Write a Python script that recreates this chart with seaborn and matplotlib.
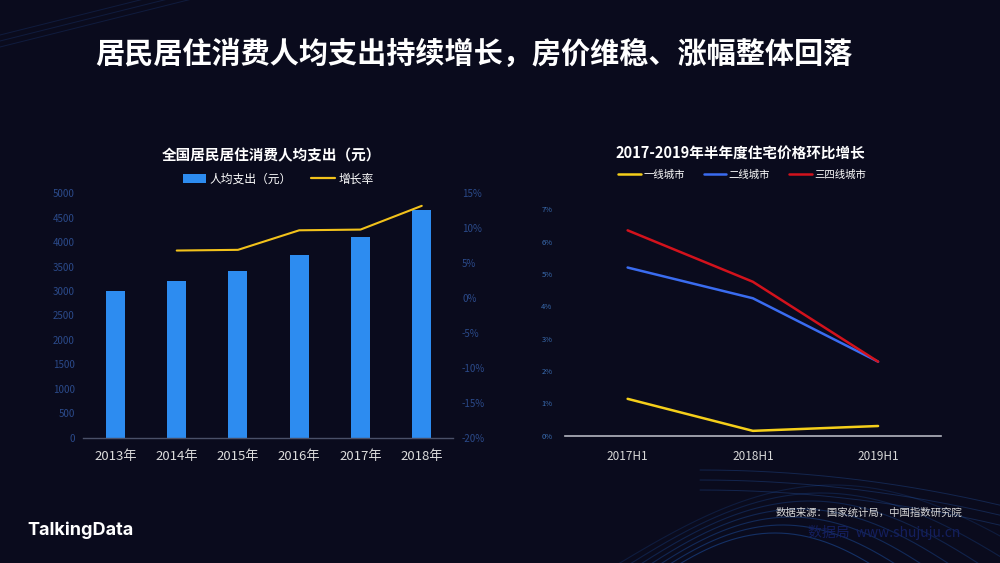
import numpy as np
import pandas as pd
import matplotlib.pyplot as plt
import seaborn as sns
from matplotlib.lines import Line2D
from matplotlib.patches import Patch
from matplotlib.ticker import FuncFormatter

# left chart: per-capita housing spend + growth rate
years = ['2013年', '2014年', '2015年', '2016年', '2017年', '2018年']
spend = [3000, 3205, 3416, 3744, 4112, 4657]
growth = [np.nan, 6.8, 6.9, 9.7, 9.8, 13.2]

# right chart: half-year housing price growth (%)
halves = ['2017H1', '2018H1', '2019H1']
tier1 = [1.14, 0.15, 0.30]
tier2 = [5.20, 4.25, 2.29]
tier34 = [6.35, 4.76, 2.29]
city_names = ['一线城市', '二线城市', '三四线城市']

BG = '#0a0b1d'
BAR_BLUE = '#2d8cf0'
GOLD = '#f2c21b'
city_colors = {'一线城市': '#f5cf1a', '二线城市': '#3a6cf0', '三四线城市': '#d2121c'}

sns.set_theme(style='dark')
plt.rcParams['font.family'] = ['Noto Sans CJK SC', 'DejaVu Sans']
plt.rcParams['axes.unicode_minus'] = False


def px(x, y):
    # pixel position (from top-left) -> figure fraction
    return x / 1000, 1 - y / 563


fig = plt.figure(figsize=(10, 5.63), dpi=100, facecolor=BG)

# faint background swooshes (decoration only)
bg = fig.add_axes([0, 0, 1, 1], zorder=-10)
bg.set_xlim(0, 1000)
bg.set_ylim(563, 0)
bg.axis('off')
t = np.linspace(0, 1, 200)
for k in range(7):
    xs = 600 + 420 * t
    ys = 575 - 90 * np.sin(np.pi * t * (0.9 + 0.05 * k)) + 8 * k
    bg.plot(xs, ys, color='#1d4fa0', alpha=0.25 + 0.05 * k, lw=0.8)
for k in range(3):
    xs = 700 + 320 * t
    ys = 470 + 40 * t ** 2 + 10 * k
    bg.plot(xs, ys, color='#2a63c0', alpha=0.3, lw=0.7)
for k in range(3):
    xs = -20 + 240 * t
    ys = 40 - 60 * t + 6 * k
    bg.plot(xs, ys, color='#1b3a7a', alpha=0.35, lw=0.7)

# ---------- left chart ----------
df_spend = pd.DataFrame({'year': years, 'spend': spend, 'growth': growth})
df_spend['pos'] = range(len(years))

ax1 = fig.add_axes([0.083, 0.2226, 0.370, 0.4341])
ax1.set_facecolor('none')
sns.barplot(data=df_spend, x='year', y='spend', color=BAR_BLUE, saturation=1,
            width=0.31, linewidth=0, edgecolor='none', ax=ax1)
ax1.set_xlim(-0.53, 5.51)
ax1.set_ylim(0, 5000)
ax1.set_yticks(range(0, 5001, 500))
ax1.set_xlabel('')
ax1.set_ylabel('')
ax1.grid(False)
for s in ['top', 'right', 'left']:
    ax1.spines[s].set_visible(False)
ax1.spines['bottom'].set_color('#4a5068')
ax1.spines['bottom'].set_linewidth(1)
ax1.tick_params(axis='y', colors='#2b4a8a', labelsize=7, length=0, pad=6)
ax1.tick_params(axis='x', colors='#dcdcdc', labelsize=9.5, length=0, pad=9)

ax2 = ax1.twinx()
sns.lineplot(data=df_spend.dropna(), x='pos', y='growth', color=GOLD,
             linewidth=1.5, ax=ax2)
ax2.set_ylim(-20, 15)
ax2.set_yticks(range(-20, 16, 5))
ax2.yaxis.set_major_formatter(FuncFormatter(lambda v, p: f'{int(v)}%'))
ax2.set_ylabel('')
ax2.grid(False)
ax2.set_facecolor('none')
for s in ax2.spines.values():
    s.set_visible(False)
ax2.tick_params(axis='y', colors='#2b4a8a', labelsize=7, length=0, pad=6.5)

fig.text(*px(271, 155), '全国居民居住消费人均支出（元）', color='white',
         fontsize=10.5, fontweight='bold', ha='center', va='center')
left_handles = [Patch(facecolor=BAR_BLUE, edgecolor='none'),
                Line2D([], [], color=GOLD, linewidth=1.6)]
fig.legend(left_handles, ['人均支出（元）', '增长率'], loc='center',
           bbox_to_anchor=px(278, 179), ncol=2, frameon=False,
           labelcolor='white', fontsize=8.5, handlelength=2.0,
           handleheight=0.8, handletextpad=0.3, columnspacing=1.6)

# ---------- right chart ----------
df_price = pd.DataFrame({
    'half': halves * 3,
    'value': tier1 + tier2 + tier34,
    'city': [c for c in city_names for _ in halves],
})

ax3 = fig.add_axes([0.565, 0.2261, 0.3757, 0.4021])
ax3.set_facecolor('none')
sns.lineplot(data=df_price, x='half', y='value', hue='city',
             hue_order=city_names, palette=city_colors, linewidth=1.8,
             legend=False, ax=ax3)
ax3.set_xlim(-0.5, 2.5)
ax3.set_ylim(0, 7)
ax3.set_yticks(range(0, 8))
ax3.yaxis.set_major_formatter(FuncFormatter(lambda v, p: f'{int(v)}%'))
ax3.set_xlabel('')
ax3.set_ylabel('')
ax3.grid(False)
for s in ['top', 'right', 'left']:
    ax3.spines[s].set_visible(False)
ax3.spines['bottom'].set_color('#b4b6c0')
ax3.spines['bottom'].set_linewidth(1.2)
ax3.tick_params(axis='y', colors='#3a6cb0', labelsize=5.5, length=0, pad=9)
ax3.tick_params(axis='x', colors='#d8d8d8', labelsize=8.5, length=0, pad=10)

fig.text(*px(740, 153), '2017-2019年半年度住宅价格环比增长', color='white',
         fontsize=10.5, fontweight='bold', ha='center', va='center')
right_handles = [Line2D([], [], color=city_colors[c], linewidth=1.8)
                 for c in city_names]
fig.legend(right_handles, city_names, loc='center',
           bbox_to_anchor=px(742, 175), ncol=3, frameon=False,
           labelcolor='white', fontsize=7.5, handlelength=2.2,
           handletextpad=0.2, columnspacing=1.8)

# ---------- page texts ----------
fig.text(*px(95, 54), '居民居住消费人均支出持续增长，房价维稳、涨幅整体回落',
         color='white', fontsize=21, fontweight='bold', ha='left', va='center')
fig.text(*px(962, 513), '数据来源：国家统计局，中国指数研究院', color='#d6d6d6',
         fontsize=7.5, ha='right', va='center')
fig.text(*px(960, 533), '数据局  www.shujuju.cn', color='#141f5e',
         fontsize=10, ha='right', va='center')
fig.text(*px(27, 530), 'TalkingData', color='white', fontsize=13,
         fontweight='bold', family=['Inter', 'DejaVu Sans'], ha='left', va='center')

fig.savefig('out.png', dpi=100, facecolor=BG)
